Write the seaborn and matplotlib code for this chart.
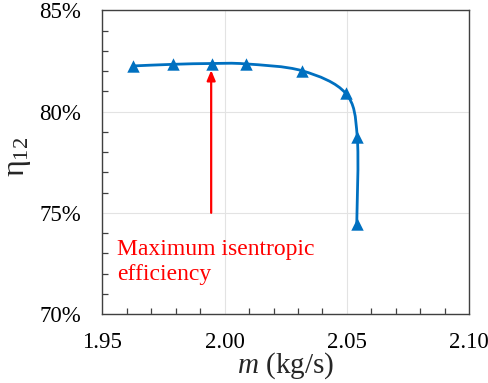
import numpy as np
import pandas as pd
import matplotlib
matplotlib.use("Agg")
import matplotlib.pyplot as plt
from matplotlib.path import Path
from matplotlib.patches import PathPatch
from matplotlib.ticker import MultipleLocator, FuncFormatter
import seaborn as sns

# Mass flow rate (kg/s) and isentropic efficiency (%)
mass_flow = [1.9627, 1.9790, 1.9947, 2.0087, 2.0317, 2.0495, 2.0542, 2.0540]
efficiency = [82.26, 82.34, 82.38, 82.36, 82.02, 80.90, 78.76, 74.45]

# Arrow marking the peak
peak_m = 1.9945
arrow_from = 75.0
arrow_to = 82.05
annotation = "Maximum isentropic\nefficiency"

x_ticks = [1.95, 2.00, 2.05, 2.10]
y_ticks = [70, 75, 80, 85]

df = pd.DataFrame({"m": mass_flow, "eta": efficiency})

sns.set_style("whitegrid")
plt.rcParams["font.family"] = ["Liberation Serif", "DejaVu Serif"]
plt.rcParams["mathtext.fontset"] = "custom"
plt.rcParams["mathtext.rm"] = "Liberation Serif"
plt.rcParams["mathtext.it"] = "Liberation Serif:italic"

blue = "#0070C0"
fig = plt.figure(figsize=(4.88, 3.83), dpi=100)
ax = fig.add_axes([0.2096, 0.1802, 0.9617 - 0.2096, 0.9726 - 0.1802])

# Smooth curve through the points (Catmull-Rom style cubic Bezier segments)
pts = df[["m", "eta"]].to_numpy()
n = len(pts)
verts = [tuple(pts[0])]
codes = [Path.MOVETO]
for i in range(n - 1):
    p0 = pts[max(i - 1, 0)]
    p1 = pts[i]
    p2 = pts[i + 1]
    p3 = pts[min(i + 2, n - 1)]
    c1 = p1 + (p2 - p0) / 6.0
    c2 = p2 - (p3 - p1) / 6.0
    verts += [tuple(c1), tuple(c2), tuple(p2)]
    codes += [Path.CURVE4] * 3
ax.add_patch(PathPatch(Path(verts, codes), facecolor="none", edgecolor=blue,
                       lw=2.0, zorder=3))

sns.scatterplot(data=df, x="m", y="eta", ax=ax, marker="^", s=80,
                color=blue, edgecolor=blue, linewidth=0, zorder=4)

ax.annotate("", xy=(peak_m, arrow_to), xytext=(peak_m, arrow_from),
            arrowprops=dict(arrowstyle="-|>,head_length=0.6,head_width=0.25",
                            color="red", lw=1.6, shrinkA=0, shrinkB=0),
            zorder=5)
ax.text(1.956, 72.55, annotation, color="red", fontsize=17,
        ha="left", va="center", linespacing=1.25)

ax.set_xlim(1.95, 2.10)
ax.set_ylim(70, 85)
ax.set_xticks(x_ticks)
ax.set_yticks(y_ticks)
ax.xaxis.set_minor_locator(MultipleLocator(0.01))
ax.yaxis.set_minor_locator(MultipleLocator(1))
ax.xaxis.set_major_formatter(FuncFormatter(lambda v, p: f"{v:.2f}"))
ax.yaxis.set_major_formatter(FuncFormatter(lambda v, p: f"{v:.0f}%"))
ax.tick_params(axis="both", which="both", direction="in", labelsize=16.5,
               colors="#404040", labelcolor="black",
               bottom=True, left=True, top=False, right=False)
ax.tick_params(axis="both", which="major", length=0)
ax.tick_params(axis="both", which="minor", length=4, width=0.9)
ax.tick_params(axis="y", which="major", pad=15)
ax.tick_params(axis="x", which="major", pad=13)
ax.grid(True, which="major", color="#e3e3e3", lw=0.8)
ax.grid(False, which="minor")
for s in ax.spines.values():
    s.set_color("#404040")
    s.set_linewidth(1.0)

ax.set_xlabel(r"$m$ (kg/s)", fontsize=21)
ax.set_ylabel(r"$\mathregular{\eta_{12}}$", fontsize=23)
ax.xaxis.set_label_coords(0.5, -0.171)
ax.yaxis.set_label_coords(-0.228, 0.517)
ax.xaxis.label.set_va("center")
ax.yaxis.label.set_va("center")

fig.savefig("out.png", dpi=100)
